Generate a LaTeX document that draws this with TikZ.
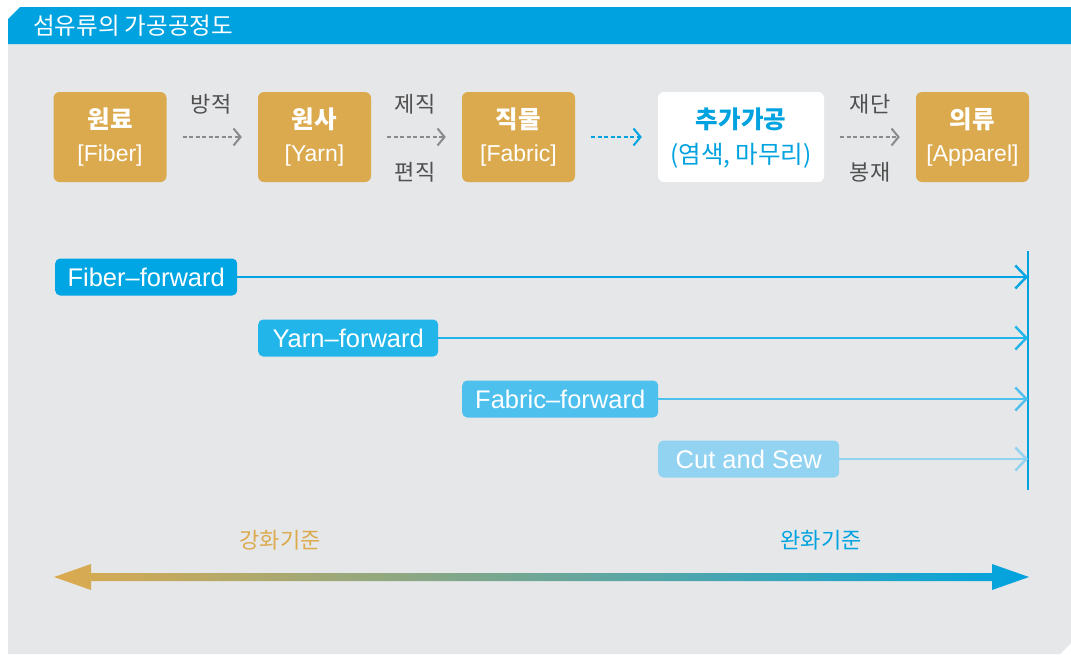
\documentclass[tikz,border=0pt]{standalone}
\usepackage{fontspec}
\setmainfont{Liberation Sans}
\newfontfamily\kr{Noto Sans CJK KR}
\usetikzlibrary{arrows.meta}
\definecolor{ochre}{HTML}{DCAA4E}
\definecolor{titleblue}{HTML}{00A3E0}
\definecolor{panelgray}{HTML}{E6E7E9}
\definecolor{labelgray}{HTML}{505050}
\definecolor{arrowgray}{HTML}{8A8A8A}
\definecolor{fwdA}{HTML}{00A5E3}
\definecolor{fwdB}{HTML}{21B5EA}
\definecolor{fwdC}{HTML}{4EC0EE}
\definecolor{fwdD}{HTML}{92D3F2}
\begin{document}
\begin{tikzpicture}[x=1pt,y=-1pt,
  stagebox/.style={rounded corners=6pt, minimum width=113pt, minimum height=90pt, inner sep=0pt, fill=ochre},
  krhead/.style={font=\kr\bfseries\fontsize{24.5}{24.5}\selectfont, text=white, inner sep=0pt},
  ensub/.style={font=\fontsize{23}{23}\selectfont, text=white, inner sep=0pt},
  steplabel/.style={font=\kr\fontsize{22}{22}\selectfont, text=labelgray, inner sep=0pt},
  flow/.style={draw=arrowgray, line width=2pt, dash pattern=on 4pt off 2.5pt,
    -{Straight Barb[length=7pt,width=17pt,line width=2pt]}, shorten <=16pt, shorten >=16pt},
  fwdlbl/.style={rounded corners=5pt, minimum height=37pt, inner sep=0pt, text=white,
    font=\fontsize{25.5}{25.5}\selectfont, anchor=west},
  fwdline/.style={line width=2pt, -{Straight Barb[length=11pt,width=23pt,line width=2.4pt]}}
]
\useasboundingbox (0,0) rectangle (1071,654);
\fill[white] (0,0) rectangle (1071,654);
% panel
\fill[panelgray] (8,44) -- (1071,44) -- (1071,643) -- (1060,654) -- (8,654) -- cycle;
\fill[titleblue] (8,19) -- (20,7) -- (1071,7) -- (1071,44) -- (8,44) -- cycle;
\node[font=\kr\fontsize{23.5}{23.5}\selectfont, text=white, anchor=west, inner sep=0pt] (title) at (33,26) {섬유류의 가공공정도};

% stage boxes
\node[stagebox] (fiber) at (110,137) {};
\node[stagebox] (yarn) at (314.5,137) {};
\node[stagebox] (fabric) at (518.5,137) {};
\node[stagebox, fill=white, minimum width=166pt] (extra) at (741,137) {};
\node[stagebox] (apparel) at (972.5,137) {};

\node[krhead] (fiberK) at (110,119) {원료};
\node[ensub] (fiberE) at (110,156) {[Fiber]};
\node[krhead] (yarnK) at (314.5,119) {원사};
\node[ensub] (yarnE) at (314.5,156) {[Yarn]};
\node[krhead] (fabricK) at (518.5,119) {직물};
\node[ensub] (fabricE) at (518.5,156) {[Fabric]};
\node[krhead, text=titleblue] (extraK) at (741,119) {추가가공};
\node[ensub, font=\kr\fontsize{24.5}{24.5}\selectfont, text=titleblue] (extraE) at (741,156) {(염색, 마무리)};
\node[krhead] (apparelK) at (972.5,119) {의류};
\node[ensub] (apparelE) at (972.5,156) {[Apparel]};

% flow arrows
\draw[flow] (fiber.east) -- (yarn.west);
\draw[flow] (yarn.east) -- (fabric.west);
\draw[flow, draw=titleblue] (fabric.east) -- (extra.west);
\draw[flow] (extra.east) -- (apparel.west);

\node[steplabel] (l1) at (211,104) {방적};
\node[steplabel] (l2) at (415,104) {제직};
\node[steplabel] (l3) at (415,172) {편직};
\node[steplabel] (l4) at (870,104) {재단};
\node[steplabel] (l5) at (870,172) {봉재};

% forward section
\coordinate (vtop) at (1028,251);
\coordinate (vbot) at (1028,490);
\draw[titleblue, line width=1.2pt] (vtop) -- (vbot);

\node[fwdlbl, fill=fwdA, minimum width=182pt] (ff) at (55,277) {Fiber–forward};
\node[fwdlbl, fill=fwdB, minimum width=180pt] (yf) at (258,338) {Yarn–forward};
\node[fwdlbl, fill=fwdC, minimum width=196pt] (bf) at (462,399) {Fabric–forward};
\node[fwdlbl, fill=fwdD, minimum width=181pt] (cs) at (658,459) {Cut and Sew};

\coordinate (ffend) at (1028,277);
\coordinate (yfend) at (1028,338);
\coordinate (bfend) at (1028,399);
\coordinate (csend) at (1028,459);
\draw[fwdline, fwdA] (ff.east) -- (ffend);
\draw[fwdline, fwdB] (yf.east) -- (yfend);
\draw[fwdline, fwdC] (bf.east) -- (bfend);
\draw[fwdline, fwdD] (cs.east) -- (csend);

% bottom scale
\node[font=\kr\fontsize{22}{22}\selectfont, text=ochre, inner sep=0pt] (strong) at (280,540) {강화기준};
\node[font=\kr\fontsize{22}{22}\selectfont, text=titleblue, inner sep=0pt] (weak) at (821,540) {완화기준};
\shade[left color=ochre, right color=titleblue]
  (54,577) -- (91,564) -- (91,573) -- (992,573) -- (992,564) -- (1029,577)
  -- (992,590) -- (992,581) -- (91,581) -- (91,590) -- cycle;
\end{tikzpicture}
\end{document}
